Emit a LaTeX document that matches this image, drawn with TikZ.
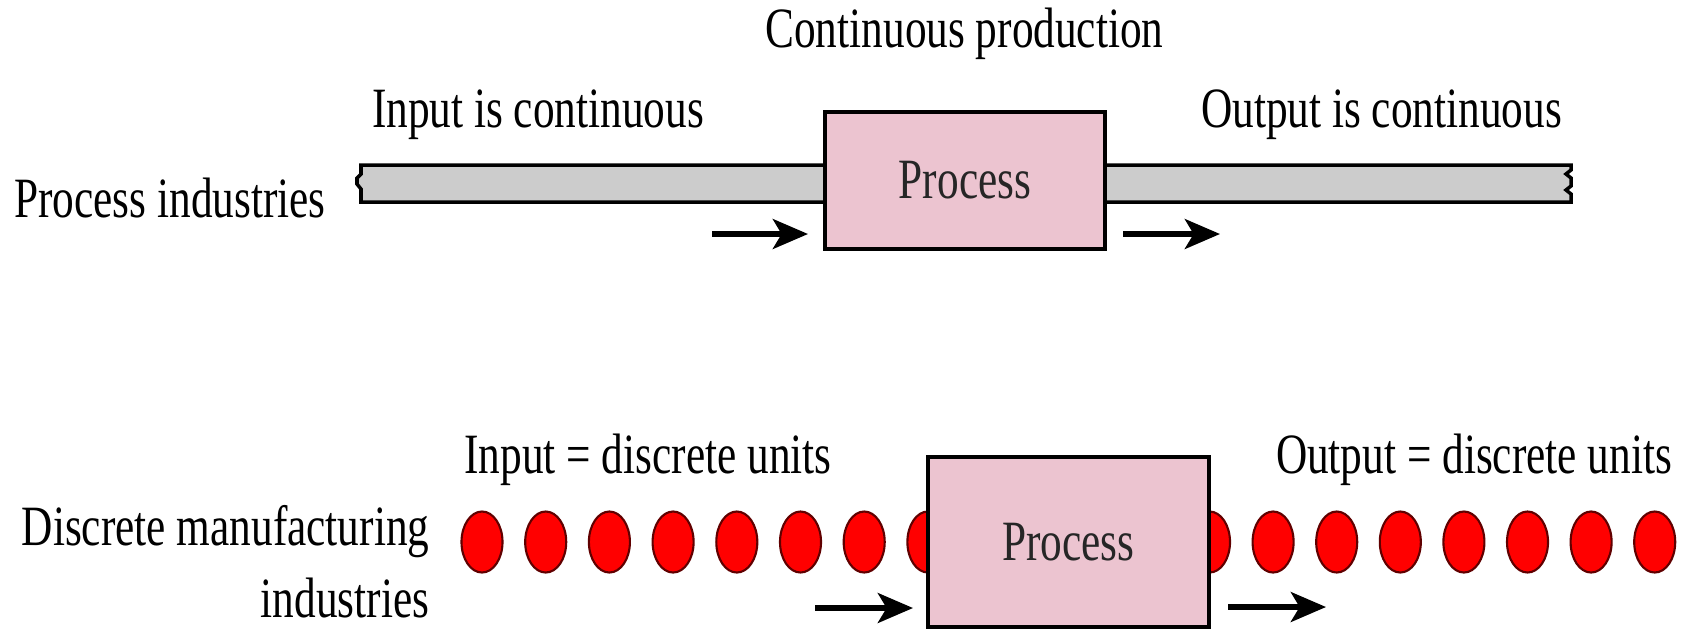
\documentclass[tikz,border=0pt]{standalone}
\usepackage{fontspec}
\setmainfont{Liberation Serif}[FakeStretch=0.76]
\usepackage{xcolor}
\usepackage{tikz}
\usetikzlibrary{arrows.meta, positioning}
\definecolor{procpink}{RGB}{236,196,208}
\definecolor{pipegray}{RGB}{204,204,204}
\definecolor{unitred}{RGB}{255,0,0}
\definecolor{unitrim}{RGB}{96,0,0}
\tikzset{
  labeltext/.style={
    font=\fontsize{16.2}{20.2}\selectfont, inner sep=0pt, align=right
  },
  procbox/.style={
    draw, line width=1pt, fill=procpink, inner sep=0pt,
    text=black!85, font=\fontsize{16.2}{20.2}\selectfont
  },
  pipebody/.style={
    draw, line width=1pt, fill=pipegray, line join=miter
  },
  flowarrow/.style={
    -{Stealth[length=10pt, width=8.5pt, inset=2.5pt]}, line width=1.5pt
  },
  unitdot/.style={
    draw=unitrim, line width=0.6pt, fill=unitred
  },
}
\begin{document}
\begin{tikzpicture}[x=0.01cm, y=-0.01cm]
  \fill[white] (0,0) rectangle (1682,629);
  \useasboundingbox (0,0) rectangle (1682,629);

  % Continuous production (top)
  \node[labeltext, anchor=base] (contprod) at (964.5,47) {Continuous production};
  \node[labeltext, anchor=base] (contin) at (538,127) {Input is continuous};
  \node[labeltext, anchor=base] (contout) at (1381.5,127) {Output is continuous};
  \node[labeltext, anchor=base] (procind) at (170,217) {Process industries};

  % Pipe
  \draw[pipebody] (361,165) -- (1571,165) -- (1571,170) -- (1566,174)
    -- (1571,178) -- (1571,186) -- (1566,190) -- (1571,194) -- (1571,202)
    -- (361,202) -- (361,189) -- (357,184) -- (357,178) -- (361,174) -- cycle;

  \node[procbox, minimum width=2.8cm, minimum height=1.37cm] (procA)
    at (965,180.5) {Process};

  \coordinate (inAs) at (712,234);
  \coordinate (inAe) at (808,234);
  \coordinate (outAs) at (1123,234);
  \coordinate (outAe) at (1220,234);
  \draw[flowarrow] (inAs) -- (inAe);
  \draw[flowarrow] (outAs) -- (outAe);

  % Discrete manufacturing (bottom)
  \node[labeltext, anchor=base] (discin) at (648,473) {Input = discrete units};
  \node[labeltext, anchor=base] (discout) at (1474,473) {Output = discrete units};
  \node[labeltext, anchor=base east] (discind) at (430,617)
    {Discrete manufacturing\\industries};

  \foreach \i in {0,...,7} {
    \draw[unitdot] (482+63.7*\i,542) ellipse [x radius=0.205cm, y radius=0.305cm];
    \draw[unitdot] (1209.5+63.6*\i,542) ellipse [x radius=0.205cm, y radius=0.305cm];
  }

  \node[procbox, minimum width=2.81cm, minimum height=1.70cm] (procB)
    at (1068.5,542) {Process};

  \coordinate (inBs) at (815,608);
  \coordinate (inBe) at (913,608);
  \coordinate (outBs) at (1228,607);
  \coordinate (outBe) at (1326,607);
  \draw[flowarrow] (inBs) -- (inBe);
  \draw[flowarrow] (outBs) -- (outBe);
\end{tikzpicture}
\end{document}
